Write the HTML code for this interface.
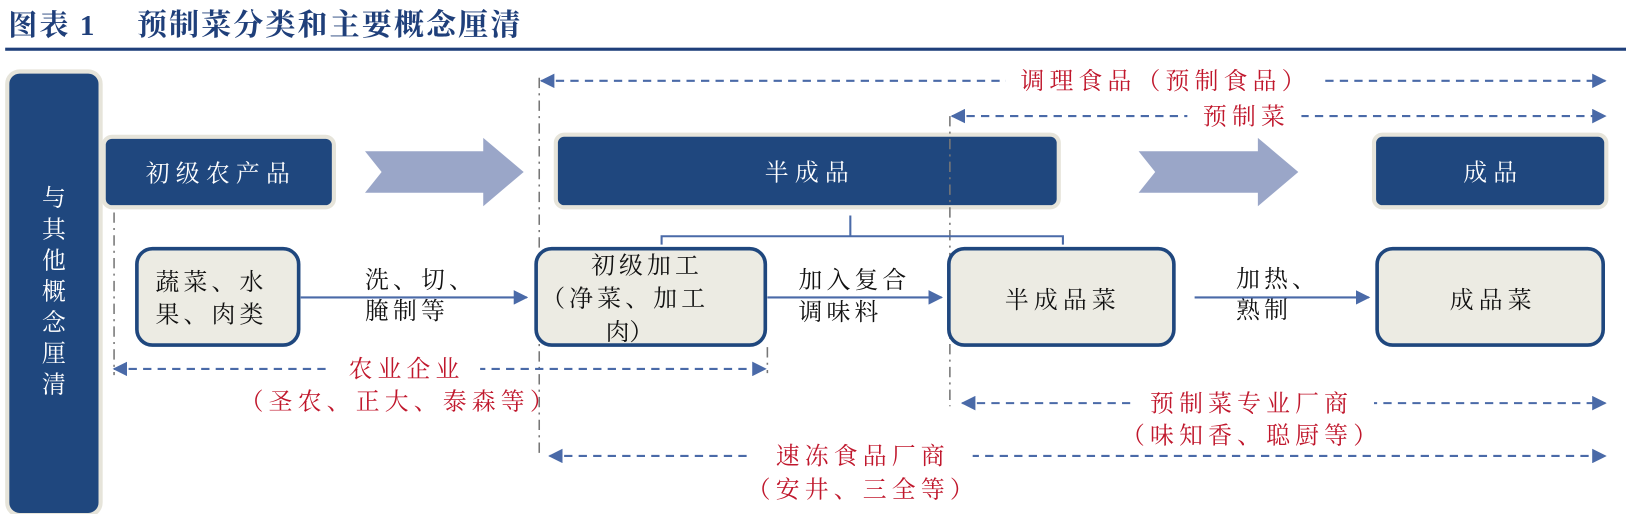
<!DOCTYPE html>
<html><head><meta charset="utf-8"><style>
body{margin:0;background:#fff;}
svg text{font-family:"Liberation Serif","Noto Serif CJK SC",serif;}
</style></head><body>
<svg width="1626" height="514" viewBox="0 0 1568 496" preserveAspectRatio="none" xmlns="http://www.w3.org/2000/svg">
<defs>
<marker id="a" viewBox="0 0 10 10" refX="9" refY="5" markerWidth="7" markerHeight="7" orient="auto-start-reverse"><path d="M0,0L10,5L0,10z" fill="#4a6aa8"/></marker>
</defs>
<text x="8" y="34" font-size="28" font-weight="bold" fill="#1f3f7a" letter-spacing="2">图表 1</text>
<text x="132" y="34" font-size="29" font-weight="bold" fill="#1f3f7a" letter-spacing="2">预制菜分类和主要概念厘清</text>
<rect x="5" y="46" width="1563" height="3" fill="#1f3f7a"/>

<rect x="7" y="69" width="90" height="428" rx="12" fill="#1f477e" stroke="#e6e4da" stroke-width="4"/>
<g fill="#fff" font-size="23" text-anchor="middle">
<text x="52" y="199">与</text><text x="52" y="229">其</text><text x="52" y="259">他</text><text x="52" y="289">概</text><text x="52" y="319">念</text><text x="52" y="349">厘</text><text x="52" y="379">清</text>
</g>

<g fill="#1f477e" stroke="#e6e4da" stroke-width="4">
<rect x="100" y="132" width="222" height="68" rx="8"/>
<rect x="536" y="130" width="485" height="70" rx="8"/>
<rect x="1325" y="130" width="224" height="70" rx="8"/>
</g>
<g fill="#fff" font-size="23" text-anchor="middle">
<text x="213" y="175" letter-spacing="6">初级农产品</text>
<text x="781" y="174" letter-spacing="6">半成品</text>
<text x="1440" y="174" letter-spacing="6">成品</text>
</g>
<g fill="#9aa6c8">
<path d="M352,146 L466,146 L466,133 L505,166 L466,199 L466,186 L352,186 L368,166z"/>
<path d="M1098,146 L1213,146 L1213,133 L1252,166 L1213,199 L1213,186 L1098,186 L1114,166z"/>
</g>

<g fill="none" stroke="#777" stroke-width="1.5" stroke-dasharray="10,5,2,5">
<line x1="110" y1="205" x2="110" y2="362"/>
<line x1="520" y1="75" x2="520" y2="442"/>
<line x1="740" y1="335" x2="740" y2="360"/>
<line x1="916" y1="112" x2="916" y2="392"/>
</g>

<path d="M638,236 L638,228 L1025,228 L1025,236 M820,208 L820,228" fill="none" stroke="#4a6aa8" stroke-width="2"/>

<g fill="#ecebe3" stroke="#1f477e" stroke-width="3.5">
<rect x="132" y="240" width="156" height="93" rx="15"/>
<rect x="517" y="240" width="221" height="93" rx="15"/>
<rect x="915" y="240" width="217" height="93" rx="15"/>
<rect x="1328" y="240" width="218" height="93" rx="15"/>
</g>
<g fill="#111" font-size="23">
<text x="150" y="280" letter-spacing="4">蔬菜、水</text>
<text x="150" y="311" letter-spacing="4">果、肉类</text>
<text x="570" y="264" letter-spacing="4">初级加工</text>
<text x="522" y="296" letter-spacing="4">（净菜、加工</text>
<text x="584" y="328">肉）</text>
<text x="1025" y="297" text-anchor="middle" letter-spacing="5">半成品菜</text>
<text x="1440" y="297" text-anchor="middle" letter-spacing="5">成品菜</text>
<text x="352" y="278" letter-spacing="4">洗、切、</text>
<text x="352" y="308" letter-spacing="4">腌制等</text>
<text x="770" y="278" letter-spacing="4">加入复合</text>
<text x="770" y="309" letter-spacing="4">调味料</text>
<text x="1192" y="277" letter-spacing="4">加热、</text>
<text x="1192" y="307" letter-spacing="4">熟制</text>
</g>
<g stroke="#4a6aa8" stroke-width="2" marker-end="url(#a)">
<line x1="290" y1="287" x2="508" y2="287"/>
<line x1="740" y1="287" x2="908" y2="287"/>
<line x1="1152" y1="287" x2="1320" y2="287"/>
</g>

<g stroke="#4a6aa8" stroke-width="2" stroke-dasharray="8,6" marker-start="url(#a)" marker-end="url(#a)" fill="none">
<line x1="522" y1="78" x2="1548" y2="78"/>
<line x1="918" y1="112" x2="1548" y2="112"/>
<line x1="110" y1="356" x2="738" y2="356"/>
<line x1="928" y1="389" x2="1548" y2="389"/>
<line x1="530" y1="440" x2="1548" y2="440"/>
</g>
<g fill="#fff">
<rect x="970" y="64" width="305" height="28"/>
<rect x="1145" y="98" width="110" height="28"/>
<rect x="318" y="342" width="145" height="28"/>
<rect x="1090" y="375" width="235" height="28"/>
<rect x="722" y="426" width="216" height="28"/>
</g>
<g fill="#c0172c" font-size="23" text-anchor="middle" letter-spacing="5">
<text x="1124" y="86">调理食品（预制食品）</text>
<text x="1202" y="120">预制菜</text>
<text x="392" y="364">农业企业</text>
<text x="385" y="395">（圣农、正大、泰森等）</text>
<text x="1207" y="397">预制菜专业厂商</text>
<text x="1207" y="428">（味知香、聪厨等）</text>
<text x="832" y="448">速冻食品厂商</text>
<text x="832" y="480">（安井、三全等）</text>
</g>
</svg>
</body></html>
